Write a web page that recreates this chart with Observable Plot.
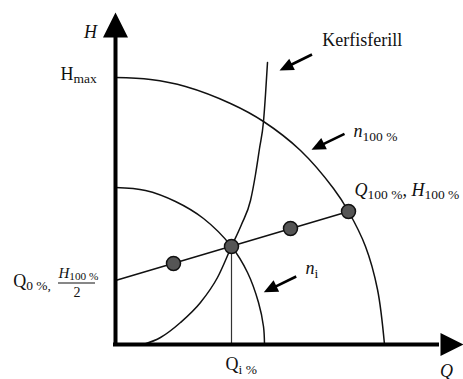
<!DOCTYPE html>
<html><head><meta charset="utf-8">
<script src="https://cdn.jsdelivr.net/npm/d3@7"></script>
<script src="https://cdn.jsdelivr.net/npm/@observablehq/plot@0.6"></script>
<style>html,body{margin:0;padding:0;background:#fff}</style>
</head><body>
<script>
// ---- data (Q, H) read from the schematic ----
const curveN100 = [[0,267],[35,265],[70,258],[115,241],[148,223],[185,194],[218,156],[233,133],[250,98],[262,55],[269,0]];
const curveNi = [[0,157],[30,154],[60,143],[88,126],[116,98],[132,72],[143,42],[148,18],[149,0]];
const systemCurve = [[28,0],[45,7],[65,22],[85,42],[102,67],[116,98],[126,120],[135,144],[140,170],[144,196],[148,223],[150,250],[152,282]];
const operatingLine = [[0,64],[233,133]];
const operatingPoints = [[58,81],[116,98],[175,116],[233,133]];
const qiPoint = [116,98];
const axisQEnd = 348, axisHEnd = 332;
const pointers = [
  {tail:[196.5,290], tip:[164,274]},
  {tail:[229,210.7], tip:[196,194.7]},
  {tail:[180.7,68], tip:[148.3,52.3]}
];
const labelTexts = ["*H*","H_{max}","Kerfisferill","*n*_{100 %}","*Q*_{100 %}, *H*_{100 %}","*n*_{i}","Q_{i %}","Q_{0 %,}","*H*_{100 %}","2","*Q*"];
const labelAnchors = [[-25,307],[-55,265],[206.7,299],[238,207.5],[239,149],[190,70.7],[110,-25.5],[-102.3,58],[-57,66.5],[-38.5,48],[331,-32]];
const labelSizes = [18,18,18,18,18,18,18,18,15,14,18];
const labelAlign = ["middle","start","start","start","start","start","start","start","start","middle","middle"];
const fractionBar = {H:61.5, Q1:-57, Q2:-20};

// ---- arrowhead symbol (tip at origin, pointing along screen dir) ----
function headSymbol(ux, uy, k) {
  const n = Math.hypot(ux, uy); ux /= n; uy /= n;
  return {draw(ctx, size) {
    const L = 2 * Math.sqrt(size / Math.PI);
    const bx = -ux * L, by = -uy * L, px = -uy * k * L, py = ux * k * L;
    ctx.moveTo(0, 0); ctx.lineTo(bx + px, by + py); ctx.lineTo(bx - px, by - py); ctx.closePath();
  }};
}
const upHead = headSymbol(0, -1, 0.5);
const rightHead = headSymbol(1, 0, 0.5);
const p0 = pointers[0];
const pdx = p0.tip[0] - p0.tail[0], pdy = -(p0.tip[1] - p0.tail[1]);
const pointerHead = headSymbol(pdx, pdy, 0.45);
const pl = Math.hypot(pdx, pdy);
const shafts = pointers.map(p => ({x1:p.tail[0], y1:p.tail[1], x2:p.tip[0] - (p.tip[0]-p.tail[0])/pl*9, y2:p.tip[1] - (p.tip[1]-p.tail[1])/pl*9}));

const labels = labelTexts.map((t,i) => ({t, Q:labelAnchors[i][0], H:labelAnchors[i][1], fs:labelSizes[i], a:labelAlign[i]}));
const X = d => d[0], Y = d => d[1];
const font = "Liberation Serif, Times New Roman, serif";

const chart = Plot.plot({
  width: 463, height: 379, margin: 0,
  x: {domain: [-115, 348], axis: null},
  y: {domain: [-35, 344], axis: null},
  style: {background: "#fff", fontFamily: font},
  marks: [
    Plot.line(curveN100, {x: X, y: Y, curve: "catmull-rom", stroke: "#111", strokeWidth: 1.5}),
    Plot.line(curveNi, {x: X, y: Y, curve: "catmull-rom", stroke: "#111", strokeWidth: 1.5}),
    Plot.line(systemCurve, {x: X, y: Y, curve: "monotone-x", stroke: "#111", strokeWidth: 1.5}),
    Plot.line(operatingLine, {x: X, y: Y, stroke: "#111", strokeWidth: 1.5}),
    Plot.ruleX([qiPoint], {x: X, y1: 0, y2: Y, stroke: "#333", strokeWidth: 1.2}),
    Plot.ruleX([0], {y1: -2, y2: axisHEnd - 24, stroke: "#000", strokeWidth: 4}),
    Plot.ruleY([0], {x1: -2, x2: axisQEnd - 24, stroke: "#000", strokeWidth: 4}),
    Plot.dot([[0, axisHEnd]], {x: X, y: Y, symbol: upHead, r: 12.5, fill: "#000", stroke: "none"}),
    Plot.dot([[axisQEnd, 0]], {x: X, y: Y, symbol: rightHead, r: 11.5, fill: "#000", stroke: "none"}),
    Plot.link(shafts, {x1: "x1", y1: "y1", x2: "x2", y2: "y2", stroke: "#000", strokeWidth: 2.6}),
    Plot.dot(pointers, {x: d => d.tip[0], y: d => d.tip[1], symbol: pointerHead, r: 7, fill: "#000", stroke: "none"}),
    Plot.dot(operatingPoints, {x: X, y: Y, r: 7, fill: "#555", stroke: "#111", strokeWidth: 1.5}),
    Plot.ruleY([fractionBar], {y: "H", x1: "Q1", x2: "Q2", stroke: "#111", strokeWidth: 1.2}),
    Plot.text(labels.filter(d => d.a === "start"), {x: "Q", y: "H", text: "t", fontSize: d => d.fs, textAnchor: "start", lineAnchor: "bottom", fill: "#111", fontFamily: font}),
    Plot.text(labels.filter(d => d.a === "middle"), {x: "Q", y: "H", text: "t", fontSize: d => d.fs, textAnchor: "middle", lineAnchor: "bottom", fill: "#111", fontFamily: font})
  ]
});
document.body.append(chart);

// rich text: *italic*, _{subscript}
chart.querySelectorAll("text").forEach(t => {
  const s = t.textContent;
  if (!/[_*]/.test(s)) return;
  const fs = parseFloat(getComputedStyle(t).fontSize);
  const shift = fs * (fs < 16 ? 0.15 : 0.22);
  t.textContent = "";
  let down = false;
  for (const m of s.matchAll(/\*([^*]+)\*|_\{([^}]*)\}|([^*_]+)/g)) {
    const ts = document.createElementNS("http://www.w3.org/2000/svg", "tspan");
    if (m[2] !== undefined) {
      ts.textContent = m[2];
      ts.setAttribute("font-size", fs * 0.75);
      ts.setAttribute("font-style", "normal");
      if (!down) { ts.setAttribute("dy", shift); down = true; }
    } else {
      ts.textContent = m[1] !== undefined ? m[1] : m[3];
      ts.setAttribute("font-style", m[1] !== undefined ? "italic" : "normal");
      if (down) { ts.setAttribute("dy", -shift); down = false; }
    }
    t.appendChild(ts);
  }
});
</script>
</body></html>
